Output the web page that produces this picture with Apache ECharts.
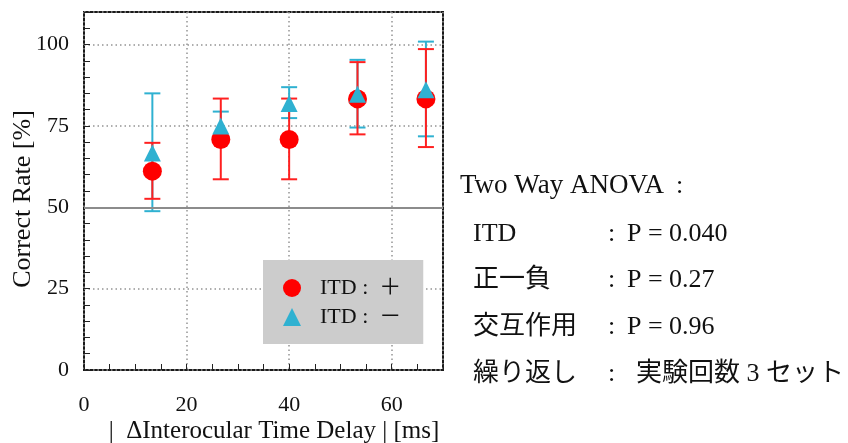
<!DOCTYPE html>
<html>
<head>
<meta charset="utf-8">
<script src="https://cdn.jsdelivr.net/npm/echarts@6/dist/echarts.min.js"></script>
<style>
  html, body { margin: 0; padding: 0; background: #ffffff; }
  #chart { width: 848px; height: 443px; }
</style>
</head>
<body>
<div id="chart"></div>
<script>
// |Δ interocular time delay| in ms
const delays = [13.33, 26.67, 40, 53.33, 66.67];

// ITD : +  (mean and error range, %)
const itdPlusMean = [61.1, 70.8, 70.8, 83.3, 83.3];
const itdPlusLow  = [52.6, 58.6, 58.6, 72.4, 68.5];
const itdPlusHigh = [69.8, 83.4, 83.4, 94.6, 98.6];

// ITD : −  (mean and error range, %)
const itdMinusMean = [66.7, 75.0, 81.9, 84.7, 86.1];
const itdMinusLow  = [48.8, 70.6, 77.4, 74.5, 71.8];
const itdMinusHigh = [85.0, 79.4, 86.9, 95.3, 100.9];

// axis ticks
const yTicks = [0, 25, 50, 75, 100];
const xTicks = [0, 20, 40, 60];

// ANOVA summary text
const anovaTitle = 'Two Way ANOVA';
const anovaLabels = ['ITD', '正一負', '交互作用', '繰り返し'];
const anovaValues = ['P = 0.040', 'P = 0.27', 'P = 0.96', '実験回数 3 セット'];

const legendNames = ['ITD :  ＋', 'ITD :  －'];

const RED = '#ff0000';
const BLUE = '#2fb1d1';
const SERIF = '"Liberation Serif", "Times New Roman", "Noto Sans CJK JP", serif';
const JP = '"Liberation Serif", "Noto Sans CJK JP", serif';

const chart = echarts.init(document.getElementById('chart'), null, { renderer: 'canvas' });

function errorData(low, high) {
  return delays.map((x, i) => [x, low[i], high[i]]);
}

function renderError(color) {
  return function (params, api) {
    const x = api.value(0);
    const lo = api.coord([x, api.value(1)]);
    const hi = api.coord([x, api.value(2)]);
    const half = 8;
    const style = { stroke: color, lineWidth: 2 };
    return {
      type: 'group',
      children: [
        { type: 'line', shape: { x1: lo[0], y1: lo[1], x2: hi[0], y2: hi[1] }, style: style },
        { type: 'line', shape: { x1: lo[0] - half, y1: lo[1], x2: lo[0] + half, y2: lo[1] }, style: style },
        { type: 'line', shape: { x1: hi[0] - half, y1: hi[1], x2: hi[0] + half, y2: hi[1] }, style: style }
      ]
    };
  };
}

function txt(x, y, text, size, family) {
  return {
    type: 'text', x: x, y: y,
    style: { text: text, font: size + 'px ' + family, fill: '#111', align: 'left', verticalAlign: 'middle' }
  };
}

const graphics = [
  {
    type: 'text', x: 23, y: 199, rotation: Math.PI / 2,
    style: { text: 'Correct Rate [%]', font: '26px ' + SERIF, fill: '#111', align: 'center', verticalAlign: 'middle' }
  },
  {
    type: 'text', x: 274, y: 431,
    style: { text: '|  ΔInterocular Time Delay | [ms]', font: '25px ' + SERIF, fill: '#111', align: 'center', verticalAlign: 'middle' }
  },
  txt(460, 186, anovaTitle, 27, JP),
  txt(676, 186, ':', 26, SERIF)
];
const rowY = [234, 280, 327, 374];
anovaLabels.forEach((label, i) => {
  graphics.push(txt(473, rowY[i], label, 26, JP));
  graphics.push(txt(608, rowY[i], ':', 26, SERIF));
  graphics.push(txt(i === 3 ? 636 : 627, rowY[i], anovaValues[i], 26, JP));
});

const option = {
  animation: false,
  backgroundColor: '#ffffff',
  grid: {
    left: 84, right: 405, top: 12, bottom: 73,
    show: true, borderColor: '#1a1a1a', borderWidth: 2, backgroundColor: 'transparent'
  },
  xAxis: {
    type: 'value', min: 0, max: 70, interval: 20,
    axisLine: { show: false },
    axisTick: { show: true, inside: true, length: 6, lineStyle: { color: '#222', width: 1 } },
    minorTick: { show: true, splitNumber: 4, length: 6, lineStyle: { color: '#222', width: 1 } },
    axisLabel: {
      margin: 24, color: '#111', fontFamily: SERIF, fontSize: 22, showMaxLabel: false,
      formatter: v => (xTicks.indexOf(v) >= 0 ? String(v) : '')
    },
    splitLine: { show: true, lineStyle: { color: '#949494', type: [1.5, 3], width: 1.5 } }
  },
  yAxis: {
    type: 'value', min: 0, max: 110, interval: 25,
    axisLine: { show: false },
    axisTick: { show: true, inside: true, length: 6, lineStyle: { color: '#222', width: 1 } },
    minorTick: { show: true, splitNumber: 5, length: 6, lineStyle: { color: '#222', width: 1 } },
    axisLabel: {
      margin: 15, color: '#111', fontFamily: SERIF, fontSize: 22, showMaxLabel: false,
      formatter: v => (yTicks.indexOf(v) >= 0 ? String(v) : '')
    },
    splitLine: { show: true, lineStyle: { color: '#949494', type: [1.5, 3], width: 1.5 } }
  },
  legend: {
    orient: 'vertical',
    left: 263, top: 260,
    backgroundColor: '#cccccc',
    padding: [17, 22, 16, 20],
    itemWidth: 18, itemHeight: 18, itemGap: 7,
    textStyle: { fontFamily: JP, fontSize: 22, color: '#111', padding: [0, 0, 0, 14] },
    data: [
      { name: legendNames[0], icon: 'circle' },
      { name: legendNames[1], icon: 'triangle' }
    ]
  },
  series: [
    {
      type: 'custom', name: 'err-minus', silent: true, z: 2,
      renderItem: renderError(BLUE),
      encode: { x: 0, y: [1, 2] },
      data: errorData(itdMinusLow, itdMinusHigh),
      markLine: {
        silent: true, symbol: 'none', label: { show: false },
        lineStyle: { color: '#8c8c8c', type: 'solid', width: 2 },
        data: [{ yAxis: 50 }]
      }
    },
    {
      type: 'custom', name: 'err-plus', silent: true, z: 3,
      renderItem: renderError('#ff2020'),
      encode: { x: 0, y: [1, 2] },
      data: errorData(itdPlusLow, itdPlusHigh)
    },
    {
      type: 'scatter', name: legendNames[0], z: 4,
      symbol: 'circle', symbolSize: 19,
      itemStyle: { color: RED, opacity: 1 },
      data: delays.map((x, i) => [x, itdPlusMean[i]])
    },
    {
      type: 'scatter', name: legendNames[1], z: 5,
      symbol: 'triangle', symbolSize: 17,
      itemStyle: { color: BLUE, opacity: 1 },
      data: delays.map((x, i) => [x, itdMinusMean[i]])
    }
  ],
  graphic: graphics
};

chart.setOption(option);
</script>
</body>
</html>
